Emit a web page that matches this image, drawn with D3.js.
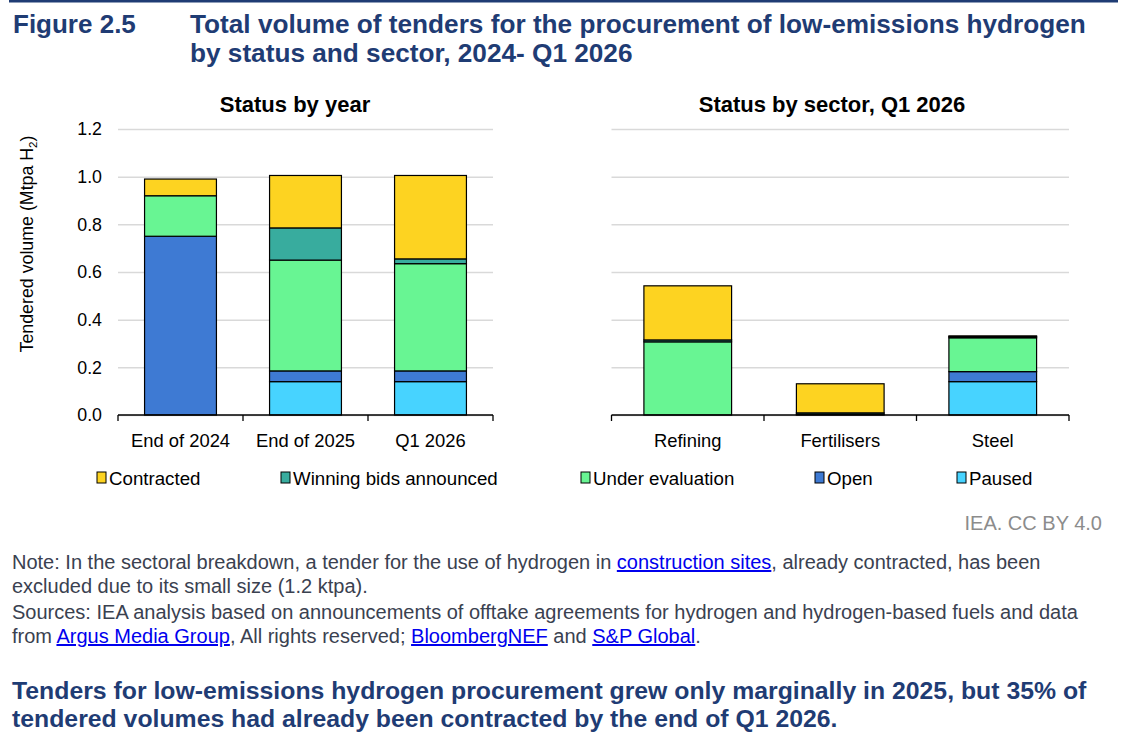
<!DOCTYPE html>
<html>
<head>
<meta charset="utf-8">
<script src="https://cdn.jsdelivr.net/npm/d3@7"></script>
<style>
  body { margin: 0; background: #fff; }
  svg { font-family: "Liberation Sans", Arial, sans-serif; display: block; }
  .grid line { stroke: #d9d9d9; stroke-width: 1.5; }
  .grid .domain { display: none; }
  .bar { stroke: #000; stroke-width: 1.2; }
</style>
</head>
<body>
<div id="chart"></div>
<script>
// categories
const yearCats = ["End of 2024", "End of 2025", "Q1 2026"];
const sectorCats = ["Refining", "Fertilisers", "Steel"];
// stack order, bottom to top
const statusKeys = ["Paused", "Open", "Under evaluation", "Winning bids announced", "Contracted"];
const legendKeys = ["Contracted", "Winning bids announced", "Under evaluation", "Open", "Paused"];
const statusColors = ["#47d3ff", "#3e7ad3", "#68f593", "#38ac9e", "#fdd321"];

// Mtpa H2, status by year
const pausedByYear = [0, 0.14, 0.14];
const openByYear = [0.75, 0.045, 0.045];
const underEvalByYear = [0.17, 0.465, 0.45];
const winningByYear = [0, 0.135, 0.02];
const contractedByYear = [0.07, 0.22, 0.35];

// Mtpa H2, status by sector Q1 2026
const pausedBySector = [0, 0, 0.14];
const openBySector = [0, 0, 0.042];
const underEvalBySector = [0.307, 0.003, 0.142];
const winningBySector = [0.008, 0.006, 0.005];
const contractedBySector = [0.227, 0.122, 0.003];

const yTicks = [0, 0.2, 0.4, 0.6, 0.8, 1.0, 1.2];

function toRows(cats, cols) {
    return cats.map((c, i) => {
        let r = { cat: c };
        statusKeys.forEach((k, j) => r[k] = cols[j][i]);
        return r;
    });
}
const yearRows = toRows(yearCats, [pausedByYear, openByYear, underEvalByYear, winningByYear, contractedByYear]);
const sectorRows = toRows(sectorCats, [pausedBySector, openBySector, underEvalBySector, winningBySector, contractedBySector]);

const W = 1130, H = 740;
const navy = "#1f3c74";
const svg = d3.select("#chart").append("svg").attr("width", W).attr("height", H);

// top rule + heading
svg.append("rect").attr("x", 9).attr("y", 0).attr("width", 1109).attr("height", 2.5).attr("fill", navy);
svg.append("text").attr("x", 13).attr("y", 33).attr("fill", navy)
    .attr("font-size", 26).attr("font-weight", "bold").text("Figure 2.5");
const heading = svg.append("text").attr("x", 190).attr("y", 33).attr("fill", navy)
    .attr("font-size", 26.2).attr("font-weight", "bold");
heading.append("tspan").text("Total volume of tenders for the procurement of low-emissions hydrogen");
heading.append("tspan").attr("x", 190).attr("dy", 29).text("by status and sector, 2024- Q1 2026");

const color = d3.scaleOrdinal().domain(statusKeys).range(statusColors);
const stack = d3.stack().keys(statusKeys);
const y = d3.scaleLinear().domain([0, 1.2]).range([415, 129]);

function panel(rows, cats, x0, x1, title, titleX, showAxis) {
    const x = d3.scaleBand().domain(cats).range([x0, x1]);
    const bw = x.bandwidth() * 0.575;
    const g = svg.append("g");

    g.append("g").attr("class", "grid")
        .attr("transform", "translate(" + x0 + ",0)")
        .call(d3.axisLeft(y).tickValues(yTicks).tickSize(-(x1 - x0)).tickFormat(""));

    if (showAxis) {
        g.append("g").attr("transform", "translate(" + x0 + ",0)")
            .call(d3.axisLeft(y).tickValues(yTicks).tickSize(0).tickPadding(16).tickFormat(d3.format(".1f")))
            .call(a => a.select(".domain").remove())
            .selectAll("text").attr("font-size", 17.8).attr("fill", "#000")
            .attr("font-family", "Liberation Sans, Arial, sans-serif");
    }

    g.selectAll("g.series").data(stack(rows)).enter()
        .append("g").attr("class", "series").attr("fill", d => color(d.key))
        .selectAll("rect").data(d => d).enter()
        .append("rect").attr("class", "bar")
        .attr("x", d => x(d.data.cat) + (x.bandwidth() - bw) / 2)
        .attr("width", bw)
        .attr("y", d => y(d[1]))
        .attr("height", d => y(d[0]) - y(d[1]));

    // baseline with ticks at band boundaries
    g.append("line").attr("x1", x0).attr("x2", x1).attr("y1", y(0)).attr("y2", y(0))
        .attr("stroke", "#000").attr("stroke-width", 1.3);
    const edges = cats.map(c => x(c)).concat([x1]);
    g.selectAll("line.tick").data(edges).enter().append("line")
        .attr("x1", d => d).attr("x2", d => d).attr("y1", y(0)).attr("y2", y(0) + 6)
        .attr("stroke", "#000").attr("stroke-width", 1.3);

    g.selectAll("text.cat").data(cats).enter().append("text")
        .attr("x", d => x(d) + x.bandwidth() / 2).attr("y", 446.5)
        .attr("text-anchor", "middle").attr("font-size", 18.4).text(d => d);

    g.append("text").attr("x", titleX).attr("y", 112).attr("text-anchor", "middle")
        .attr("font-size", 22).attr("font-weight", "bold").text(title);
}

panel(yearRows, yearCats, 118, 493, "Status by year", 295, true);
panel(sectorRows, sectorCats, 611.5, 1069, "Status by sector, Q1 2026", 832, false);

// y axis title
const yl = svg.append("text").attr("transform", "translate(33,244) rotate(-90)")
    .attr("text-anchor", "middle").attr("font-size", 17.8);
yl.append("tspan").text("Tendered volume (Mtpa H");
yl.append("tspan").attr("font-size", 11.5).attr("dy", 4).text("2");
yl.append("tspan").attr("dy", -4).text(")");

// legend
const legendX = [97, 281, 581, 815, 957];
const lg = svg.append("g").selectAll("g").data(legendKeys).enter().append("g")
    .attr("transform", (d, i) => "translate(" + legendX[i] + ",478)");
lg.append("rect").attr("x", 0).attr("y", -6).attr("width", 9).attr("height", 11)
    .attr("fill", d => color(d)).attr("stroke", "#000").attr("stroke-width", 1);
lg.append("text").attr("x", 12).attr("y", 6.5).attr("font-size", 18.7).text(d => d);

svg.append("text").attr("x", 1102).attr("y", 530).attr("text-anchor", "end")
    .attr("fill", "#8c8c8c").attr("font-size", 20).text("IEA. CC BY 4.0");

// notes
const noteCol = "#3a4150";
function noteLine(yPos, parts) {
    const t = svg.append("text").attr("x", 12).attr("y", yPos).attr("font-size", 20).attr("fill", noteCol);
    parts.forEach(p => {
        const s = t.append("tspan").text(p[0]);
        if (p[1]) s.attr("fill", "#0000ee").attr("text-decoration", "underline");
    });
}
noteLine(569, [["Note: In the sectoral breakdown, a tender for the use of hydrogen in "], ["construction sites", 1], [", already contracted, has been"]]);
noteLine(593, [["excluded due to its small size (1.2 ktpa)."]]);
noteLine(619, [["Sources: IEA analysis based on announcements of offtake agreements for hydrogen and hydrogen-based fuels and data"]]);
noteLine(643, [["from "], ["Argus Media Group", 1], [", All rights reserved; "], ["BloombergNEF", 1], [" and "], ["S&P Global", 1], ["."]]);

const foot = svg.append("text").attr("x", 12).attr("y", 699).attr("fill", navy)
    .attr("font-size", 24.8).attr("font-weight", "bold");
foot.append("tspan").text("Tenders for low-emissions hydrogen procurement grew only marginally in 2025, but 35% of");
foot.append("tspan").attr("x", 12).attr("dy", 28).text("tendered volumes had already been contracted by the end of Q1 2026.");
</script>
</body>
</html>
